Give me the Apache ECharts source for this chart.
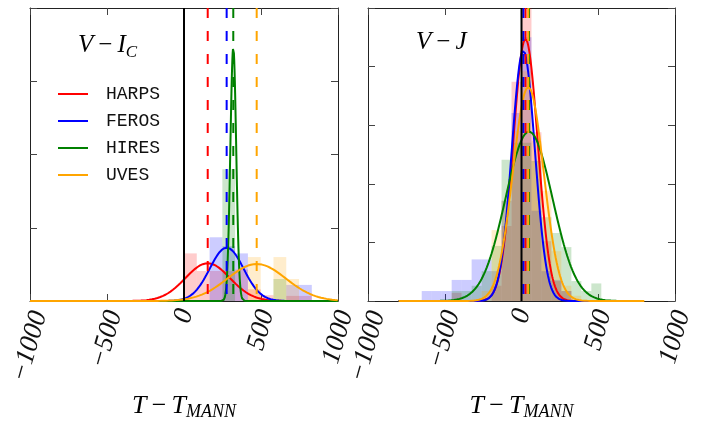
<!DOCTYPE html>
<html><head><meta charset="utf-8">
<script src="https://cdn.jsdelivr.net/npm/echarts@6/dist/echarts.min.js"></script>
<style>html,body{margin:0;padding:0;background:#fff}#c{width:712px;height:421px}</style>
</head><body><div id="c"></div>
<script>
// ---------- DATA ----------
const instruments = ['HARPS', 'FEROS', 'HIRES', 'UVES'];
const colors = ['#ff0000', '#0000ff', '#008000', '#ffa500'];
const histColors = ['rgba(255,0,0,0.2)', 'rgba(0,0,255,0.2)', 'rgba(0,128,0,0.2)', 'rgba(255,165,0,0.2)'];
const xTickValues = [-1000, -500, 0, 500, 1000];

// Left panel: V - I_C
const leftBinEdges = [0, 83, 166, 249, 332, 415, 498, 581, 664, 747, 830];
const leftHistHARPS = [0.65, 0.41, 0.41, 0.41, 0.43, 0.16, 0.08, 0, 0.07, 0.07];
const leftHistFEROS = [0, 0, 0.87, 0.75, 0.65, 0, 0, 0, 0.22, 0.22];
const leftHistHIRES = [0, 0, 0, 1.80, 0, 0, 0, 0.30, 0, 0];
const leftHistUVES = [0, 0, 0, 0, 0, 0.60, 0, 0.60, 0.30, 0];
// fitted normal curves: mean, sigma, peak height (HARPS, FEROS, HIRES, UVES)
const leftMean = [154, 277, 320, 472];
const leftSigma = [145, 110, 19, 190];
const leftPeak = [0.515, 0.728, 3.46, 0.505];

// Right panel: V - J
const rightBinEdges = [-650, -585, -520, -455, -390, -325, -260, -195, -130, -65, 0, 65, 130, 195, 260, 325, 390, 455, 520];
const rightHistHARPS = [0, 0, 0, 0.14, 0, 0, 0, 0.26, 1.28, 3.74, 5.0, 2.88, 1.02, 0.34, 0.17, 0, 0, 0];
const rightHistFEROS = [0.17, 0.17, 0.17, 0.36, 0.36, 0.71, 0.71, 0.51, 1.71, 3.21, 4.5, 1.54, 0.51, 0.36, 0.17, 0, 0, 0];
const rightHistHIRES = [0, 0, 0, 0.17, 0.17, 0.26, 0.51, 0.94, 2.41, 2.70, 2.70, 2.39, 1.43, 1.16, 0.92, 0.34, 0.17, 0.30];
const rightHistUVES = [0, 0, 0, 0, 0, 0, 0.17, 1.21, 1.71, 2.90, 3.92, 2.73, 1.88, 0.85, 0.26, 0.09, 0, 0];
const rightMean = [26, 12, 49, 44];
const rightSigma = [80, 75, 153, 100];
const rightPeak = [4.47, 4.27, 2.89, 3.65];

const leftYMax = 4, rightYMax = 5;
const leftCurveRange = [-1000, 1000], rightCurveRange = [-800, 800];

// ---------- BUILD ----------
function histData(edges, h) {
  const out = [];
  for (let i = 0; i < h.length; i++) if (h[i] > 0) out.push([edges[i], edges[i + 1], h[i]]);
  return out;
}
function gaussCurve(mu, sig, peak, range) {
  const pts = [];
  for (let x = range[0]; x <= range[1]; x += 2) {
    pts.push([x, peak * Math.exp(-0.5 * Math.pow((x - mu) / sig, 2))]);
  }
  return pts;
}
function renderHist(params, api) {
  const a = api.coord([api.value(0), api.value(2)]);
  const b = api.coord([api.value(1), 0]);
  return { type: 'rect', shape: { x: a[0], y: a[1], width: b[0] - a[0], height: b[1] - a[1] },
    style: { fill: api.visual('color') } };
}

const series = [];
const panels = [
  { hists: [leftHistHARPS, leftHistFEROS, leftHistHIRES, leftHistUVES], edges: leftBinEdges,
    mean: leftMean, sigma: leftSigma, peak: leftPeak, ymax: leftYMax, range: leftCurveRange },
  { hists: [rightHistHARPS, rightHistFEROS, rightHistHIRES, rightHistUVES], edges: rightBinEdges,
    mean: rightMean, sigma: rightSigma, peak: rightPeak, ymax: rightYMax, range: rightCurveRange }
];
panels.forEach((p, pi) => {
  const xi = pi * 2, yi = pi * 2;
  p.hists.forEach((h, i) => {
    series.push({ type: 'custom', name: instruments[i] + ' hist', xAxisIndex: xi, yAxisIndex: yi,
      renderItem: renderHist, data: histData(p.edges, h), encode: { x: [0, 1], y: 2 },
      itemStyle: { color: histColors[i] }, silent: true, z: 1 });
  });
  instruments.forEach((name, i) => {
    series.push({ type: 'line', name: name, xAxisIndex: xi, yAxisIndex: yi, color: colors[i],
      data: gaussCurve(p.mean[i], p.sigma[i], p.peak[i], p.range), showSymbol: false,
      lineStyle: { color: colors[i], width: 2 }, silent: true, z: 2 });
  });
  instruments.forEach((name, i) => {
    series.push({ type: 'line', name: name + ' mean', xAxisIndex: xi, yAxisIndex: yi,
      data: [[p.mean[i], p.ymax], [p.mean[i], 0]], showSymbol: false,
      lineStyle: { color: colors[i], width: 2, type: [10, 13] }, silent: true, z: 3 });
  });
  series.push({ type: 'line', name: 'zero', xAxisIndex: xi, yAxisIndex: yi,
    data: [[0, 0], [0, p.ymax]], showSymbol: false,
    lineStyle: { color: '#000', width: 2 }, silent: true, z: 4 });
});

const serif = 'Liberation Serif';
const mathRich = {
  i: { fontFamily: serif, fontStyle: 'italic', fontWeight: 'normal', fontSize: 25, color: '#000' },
  m: { fontFamily: serif, fontWeight: 'normal', fontSize: 25, color: '#000' },
  s: { fontFamily: serif, fontStyle: 'italic', fontWeight: 'normal', fontSize: 17, color: '#000', padding: [14, 0, 0, 0] }
};
const nameRich = {
  i: Object.assign({}, mathRich.i, { fontSize: 26 }),
  m: Object.assign({}, mathRich.m, { fontSize: 26 }),
  s: Object.assign({}, mathRich.s, { fontSize: 18 })
};
// tick label styles: shift each rotated label so that its box is centred under its tick
const labelRich = {};
[1, 2, 3, 4, 5].forEach(n => {
  labelRich['l' + n] = { fontFamily: serif, fontStyle: 'italic', fontSize: 27, color: '#111', padding: [4 * n, 0, 0, 0] };
});
const frame = { show: true, onZero: false, lineStyle: { color: '#222', width: 1 } };
const tick = { show: true, inside: true, length: 7, lineStyle: { color: '#444', width: 1 } };
const minus = '\u2009\u2212\u2009';

function xAx(grid, pos, labels) {
  return {
    type: 'value', gridIndex: grid, position: pos, min: -1000, max: 1000, interval: 500,
    axisLine: frame, axisTick: tick, splitLine: { show: false },
    axisLabel: labels ? {
      show: true, rotate: 74, margin: 8, rich: labelRich,
      formatter: v => {
        if (!xTickValues.includes(v)) return '';
        const s = String(v).replace('-', '\u2212');
        return '{l' + s.length + '|' + s + '}';
      }
    } : { show: false },
    name: labels ? '{i|T}{m|' + minus + '}{i|T}{s|MANN}' : '', nameLocation: 'middle', nameGap: 86,
    nameTextStyle: { rich: nameRich }
  };
}
function yAx(grid, pos, max) {
  return { type: 'value', gridIndex: grid, position: pos, min: 0, max: max, interval: 1,
    axisLine: frame, axisTick: tick, axisLabel: { show: false }, splitLine: { show: false } };
}

const option = {
  animation: false,
  backgroundColor: '#fff',
  grid: [
    { left: 30, top: 8, width: 308, height: 293, containLabel: false, outerBoundsMode: 'none' },
    { left: 368, top: 8, width: 307, height: 293, containLabel: false, outerBoundsMode: 'none' }
  ],
  xAxis: [xAx(0, 'bottom', true), xAx(0, 'top', false), xAx(1, 'bottom', true), xAx(1, 'top', false)],
  yAxis: [yAx(0, 'left', leftYMax), yAx(0, 'right', leftYMax), yAx(1, 'left', rightYMax), yAx(1, 'right', rightYMax)],
  title: [
    { left: 73, top: 25, text: '{i|V}{m|' + minus + '}{i|I}{s|C}', textStyle: { fontWeight: 'normal', rich: mathRich } },
    { left: 411, top: 25, text: '{i|V}{m|' + minus + '}{i|J}', textStyle: { fontWeight: 'normal', rich: mathRich } }
  ],
  legend: {
    data: instruments, orient: 'vertical', left: 53, top: 80, icon: 'rect',
    itemWidth: 30, itemHeight: 2, itemGap: 9, selectedMode: false,
    textStyle: { fontFamily: 'Liberation Mono', fontSize: 18, lineHeight: 18, color: '#111', padding: [0, 0, 0, 13] }
  },
  series: series
};
echarts.init(document.getElementById('c'), null, { renderer: 'canvas' }).setOption(option);
</script></body></html>
